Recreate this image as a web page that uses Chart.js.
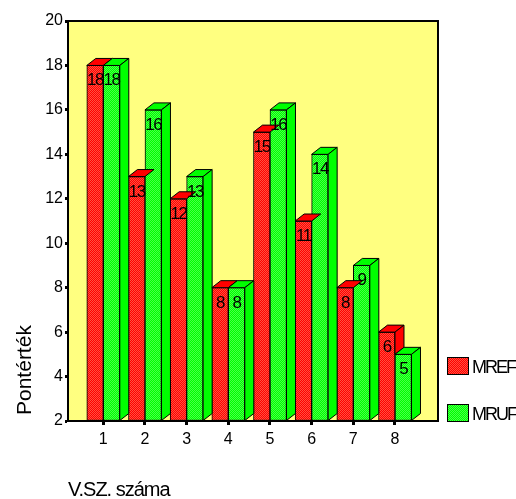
<!DOCTYPE html>
<html>
<head>
<meta charset="utf-8">
<script src="https://cdn.jsdelivr.net/npm/chart.js@4.4.1/dist/chart.umd.min.js"></script>
<style>
  html, body { margin: 0; padding: 0; background: #fff; }
</style>
</head>
<body>
<canvas id="chart" width="516" height="499"></canvas>
<script>
const categories = [1, 2, 3, 4, 5, 6, 7, 8];
const mref = [18, 13, 12, 8, 15, 11, 8, 6];
const mruf = [18, 16, 13, 8, 16, 14, 9, 5];
const seriesNames = ['MREF', 'MRUF'];
const xTitle = 'V.SZ. száma';
const yTitle = 'Pontérték';

const FONT = "'Liberation Sans', Arial, sans-serif";
const DX = 9, DY = 7; // 3d depth of the bars

const canvas = document.getElementById('chart');
const ctx = canvas.getContext('2d');

function checker(a, b) {
  const c = document.createElement('canvas');
  c.width = 2; c.height = 2;
  const g = c.getContext('2d');
  g.fillStyle = a; g.fillRect(0, 0, 2, 2);
  g.fillStyle = b; g.fillRect(0, 0, 1, 1); g.fillRect(1, 1, 1, 1);
  return ctx.createPattern(c, 'repeat');
}
const redFront = checker('#ff0000', '#ff5040');
const greenFront = checker('#00ff00', '#48ff48');
const solid = ['#ff0000', '#00ff00'];
const fronts = [redFront, greenFront];

function face(c, pts, fill) {
  c.beginPath();
  c.moveTo(pts[0][0], pts[0][1]);
  for (let i = 1; i < pts.length; i++) c.lineTo(pts[i][0], pts[i][1]);
  c.closePath();
  c.fillStyle = fill;
  c.fill();
  c.stroke();
}

// yellow wall with the frame on top and right
const wall = {
  id: 'wall',
  beforeDraw(chart) {
    const { ctx: c, chartArea: a } = chart;
    c.save();
    c.fillStyle = '#ffff80';
    c.fillRect(a.left, a.top, a.right - a.left, a.bottom - a.top);
    c.strokeStyle = '#000';
    c.lineWidth = 2;
    c.beginPath();
    c.moveTo(a.left, a.top);
    c.lineTo(a.right, a.top);
    c.lineTo(a.right, a.bottom);
    c.stroke();
    c.restore();
  }
};

// top and side faces, value labels
const bars3d = {
  id: 'bars3d',
  afterDatasetsDraw(chart) {
    const c = chart.ctx;
    const r = chart.getDatasetMeta(0).data;
    const g = chart.getDatasetMeta(1).data;
    c.save();
    c.strokeStyle = '#000';
    c.lineWidth = 1;
    categories.forEach((cat, i) => {
      const R = r[i], G = g[i];
      const rl = R.x - R.width / 2, rr = R.x + R.width / 2;
      const gl = G.x - G.width / 2, gr = G.x + G.width / 2;
      face(c, [[rl, R.y], [rr, R.y], [rr + DX, R.y - DY], [rl + DX, R.y - DY]], solid[0]);
      if (R.y < G.y) {
        face(c, [[rr, R.y], [rr + DX, R.y - DY], [rr + DX, G.y - DY], [rr, G.y]], solid[0]);
      }
      face(c, [[gl, G.y], [gr, G.y], [gr + DX, G.y - DY], [gl + DX, G.y - DY]], solid[1]);
      face(c, [[gr, G.y], [gr + DX, G.y - DY], [gr + DX, G.base - DY], [gr, G.base]], solid[1]);
    });
    c.fillStyle = '#000';
    c.font = '17px ' + FONT;
    c.letterSpacing = '-1.5px';
    c.textAlign = 'center';
    c.textBaseline = 'alphabetic';
    [r, g].forEach((els, k) => {
      const vals = k === 0 ? mref : mruf;
      els.forEach((el, i) => c.fillText(String(vals[i]), el.x, el.y + 20));
    });
    c.restore();
  }
};

// axis titles and legend
const extras = {
  id: 'extras',
  afterDraw(chart) {
    const c = chart.ctx;
    c.save();
    c.fillStyle = '#000';
    c.textBaseline = 'alphabetic';
    c.textAlign = 'left';

    c.font = '20px ' + FONT;
    c.letterSpacing = '-1px';
    c.fillText(xTitle, 68, 496);

    c.save();
    c.font = '21px ' + FONT;
    c.letterSpacing = '0px';
    c.translate(31, 415);
    c.rotate(-Math.PI / 2);
    c.fillText(yTitle, 0, 0);
    c.restore();

    c.font = '18px ' + FONT;
    c.letterSpacing = '-2px';
    const rows = [357, 404];
    seriesNames.forEach((name, k) => {
      c.fillStyle = fronts[k];
      c.fillRect(447, rows[k], 22, 18);
      c.strokeStyle = '#000';
      c.lineWidth = 1;
      c.strokeRect(447.5, rows[k] + 0.5, 21, 17);
      c.fillStyle = '#000';
      c.fillText(name, 472, rows[k] + 16);
    });
    c.restore();
  }
};

Chart.defaults.font.family = FONT;
Chart.defaults.color = '#000';

new Chart(ctx, {
  type: 'bar',
  data: {
    datasets: [
      {
        label: seriesNames[0],
        data: categories.map((x, i) => ({ x, y: mref[i] })),
        backgroundColor: redFront,
        borderColor: '#000',
        borderWidth: 1,
        borderSkipped: false,
        base: 2,
        barThickness: 16.5
      },
      {
        label: seriesNames[1],
        data: categories.map((x, i) => ({ x, y: mruf[i] })),
        backgroundColor: greenFront,
        borderColor: '#000',
        borderWidth: 1,
        borderSkipped: false,
        base: 2,
        barThickness: 16.5
      }
    ]
  },
  options: {
    responsive: false,
    animation: false,
    layout: { padding: { left: 0, right: 78, top: 21, bottom: 0 } },
    plugins: {
      legend: { display: false },
      tooltip: { enabled: false }
    },
    scales: {
      x: {
        type: 'linear',
        offset: false,
        min: 0.153,
        max: 9.032,
        afterBuildTicks: s => { s.ticks = categories.map(v => ({ value: v })); },
        afterFit: s => { s.height = 78; },
        grid: { offset: false, drawOnChartArea: false, tickLength: 4, tickWidth: 3, tickColor: '#000' },
        border: { color: '#000', width: 2 },
        ticks: { color: '#000', font: { size: 16 }, padding: 5, maxRotation: 0, autoSkip: false }
      },
      y: {
        min: 2,
        max: 20,
        afterFit: s => { s.width = 68; },
        grid: { drawOnChartArea: false, tickLength: 3, tickWidth: 3, tickColor: '#000' },
        border: { color: '#000', width: 2 },
        ticks: { stepSize: 2, color: '#000', font: { size: 16 }, padding: 2 }
      }
    }
  },
  plugins: [wall, bars3d, extras]
});
</script>
</body>
</html>
